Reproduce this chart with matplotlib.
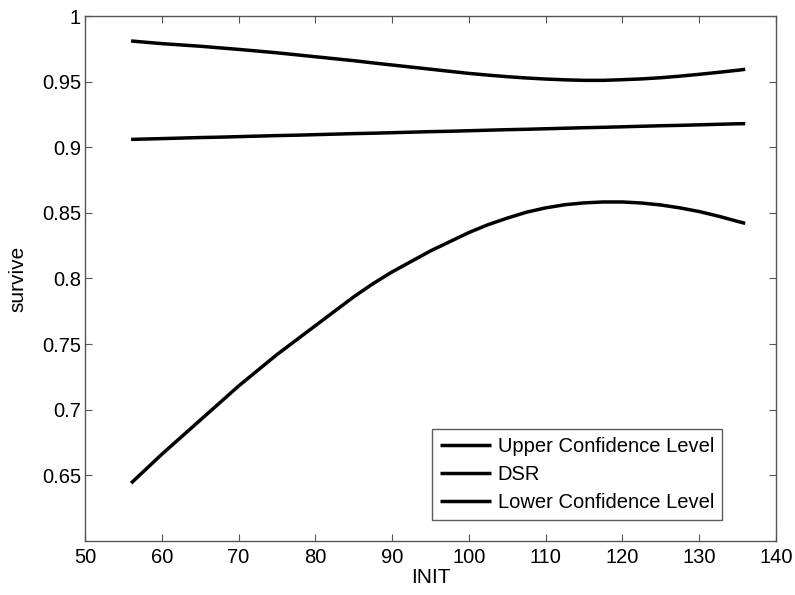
import numpy as np
import matplotlib.pyplot as plt

plt.rcParams['font.family'] = ['Liberation Sans', 'DejaVu Sans']

# values
init = [56, 58, 60, 62.5, 65, 67.5, 70, 72.5, 75, 77.5, 80, 82.5, 85, 87.5, 90, 92.5,
        95, 97.5, 100, 102.5, 105, 107.5, 110, 112.5, 115, 117.5, 120, 122.5, 125,
        127.5, 130, 132.5, 135, 136]
upper = [0.981, 0.980, 0.979, 0.978, 0.977, 0.9758, 0.9746, 0.9733, 0.972, 0.9705,
         0.969, 0.9675, 0.966, 0.9643, 0.9627, 0.9611, 0.9595, 0.9579, 0.9563, 0.955,
         0.9538, 0.9528, 0.952, 0.9514, 0.951, 0.951, 0.9515, 0.9521, 0.953, 0.9542,
         0.9556, 0.9571, 0.9587, 0.9594]
dsr = [0.906, 0.9063, 0.9066, 0.907, 0.9074, 0.9077, 0.9081, 0.9085, 0.9089, 0.9092,
       0.9096, 0.91, 0.9104, 0.9107, 0.9111, 0.9115, 0.9119, 0.9122, 0.9126, 0.913,
       0.9134, 0.9137, 0.9141, 0.9145, 0.9149, 0.9152, 0.9156, 0.916, 0.9164, 0.9167,
       0.9171, 0.9175, 0.9179, 0.918]
lower = [0.644, 0.655, 0.666, 0.679, 0.692, 0.705, 0.718, 0.730, 0.742, 0.753,
         0.764, 0.775, 0.786, 0.796, 0.805, 0.813, 0.821, 0.828, 0.835, 0.841,
         0.846, 0.8505, 0.8538, 0.8562, 0.8576, 0.8583, 0.8583, 0.8575, 0.856, 0.8538,
         0.851, 0.8475, 0.8435, 0.842]
labels = ['Upper Confidence Level', 'DSR', 'Lower Confidence Level']

fig = plt.figure(figsize=(7.95, 5.95), dpi=100)
ax = fig.add_axes([0.107, 0.091, 0.869, 0.882])

for series, lab in zip([upper, dsr, lower], labels):
    ax.plot(init, series, color='black', linewidth=2.5, label=lab, solid_capstyle='butt')

ax.set_xlim(50, 140)
ax.set_ylim(0.6, 1)
ax.set_xticks(np.arange(50, 141, 10))
ax.set_yticks([0.65, 0.7, 0.75, 0.8, 0.85, 0.9, 0.95, 1])
ax.set_yticklabels(['0.65', '0.7', '0.75', '0.8', '0.85', '0.9', '0.95', '1'])
ax.tick_params(direction='in', top=True, right=True, length=5, width=0.8,
               color='#555555', labelsize=14.5)
ax.tick_params(axis='x', pad=5)
ax.tick_params(axis='y', pad=3)
for sp in ax.spines.values():
    sp.set_color('#555555')
    sp.set_linewidth(1.0)

ax.set_xlabel('INIT', fontsize=15, labelpad=1)
ax.set_ylabel('survive', fontsize=15, labelpad=10)

leg = ax.legend(loc='lower right', bbox_to_anchor=(0.922, 0.04), fontsize=14.5,
                frameon=True, fancybox=False, edgecolor='#333333',
                handlelength=2.5, handletextpad=0.35, labelspacing=0.45,
                borderpad=0.4, borderaxespad=0)
leg.get_frame().set_linewidth(1.0)

fig.savefig('out.png', dpi=100, facecolor='white')
